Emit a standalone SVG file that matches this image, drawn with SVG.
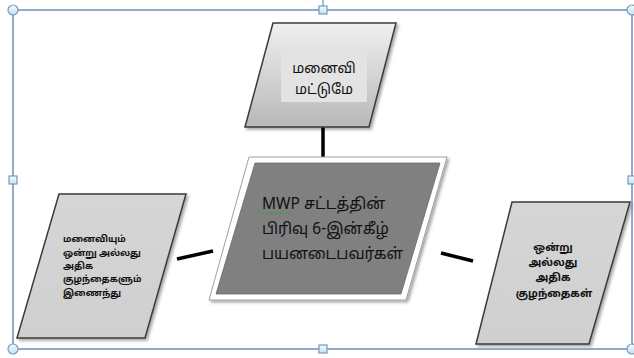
<svg xmlns="http://www.w3.org/2000/svg" width="634" height="358" viewBox="0 0 634 358">
<defs>
<linearGradient id="gTop" x1="0" y1="0" x2="0" y2="1">
<stop offset="0" stop-color="#f0f0f0"/><stop offset="1" stop-color="#b8b8b8"/>
</linearGradient>
<linearGradient id="gSide" x1="0" y1="0" x2="0" y2="1">
<stop offset="0" stop-color="#d6d6d6"/><stop offset="1" stop-color="#cfcfcf"/>
</linearGradient>
<linearGradient id="gHandle" x1="0" y1="0" x2="0" y2="1">
<stop offset="0" stop-color="#f4fbfd"/><stop offset="1" stop-color="#bfe4ef"/>
</linearGradient>
<filter id="sh" x="-20%" y="-20%" width="140%" height="140%">
<feDropShadow dx="2" dy="2" stdDeviation="1.5" flood-color="#000" flood-opacity="0.35"/>
</filter>
</defs>
<style>
.node{stroke:#3a3a3a;stroke-width:1.5;filter:url(#sh)}
.conn{stroke:#000;stroke-width:3.5;stroke-linecap:butt;fill:none}
.t{font-family:"Noto Sans Tamil","Noto Sans Tamil UI","Lohit Tamil","FreeSans","Latha","Noto Sans","DejaVu Sans",sans-serif;fill:#111}
.sel{stroke:#6f8fb5;stroke-width:1.5;fill:none}
.h{fill:url(#gHandle);stroke:#7b99bd;stroke-width:1.2}
</style>

<g id="connectors">
<line class="conn" x1="323" y1="127" x2="323" y2="158"/>
<line class="conn" x1="177" y1="259" x2="213" y2="251"/>
<line class="conn" x1="441" y1="253" x2="473" y2="261"/>
</g>

<g id="node-top">
<polygon class="node" points="273,23 396,23 369,127 245,127" fill="url(#gTop)"/>
<rect x="281" y="51" width="86" height="51" fill="#e3e3e3"/>
<text class="t" font-size="14" text-anchor="middle" x="324" y="73">மனைவி</text>
<text class="t" font-size="14" text-anchor="middle" x="324" y="94">மட்டுமே</text>
</g>

<g id="node-center">
<polygon points="249,157 447,157 406,300 209,300" fill="#ffffff" stroke="#a0a0a0" stroke-width="1" filter="url(#sh)"/>
<polygon points="255,163 440,163 401,294 216,294" fill="#808080" stroke="#6a6a6a" stroke-width="0.8"/>
<text class="t" font-size="15.5" x="262" y="209">MWP சட்டத்தின்</text>
<text class="t" font-size="15.5" x="262" y="234">பிரிவு 6-இன்கீழ்</text>
<text class="t" font-size="15.5" x="262" y="259">பயனடைபவர்கள்</text>
<path d="M262,212 l2,2 l2,-2 l2,2 l2,-2 l2,2 l2,-2 l2,2 l2,-2 l2,2 l2,-2 l2,2 l2,-2 l2,2 l2,-2" fill="none" stroke="#2ea02e" stroke-width="0.8"/>
</g>

<g id="node-left">
<polygon class="node" points="59,194 186,194 145,338 17,338" fill="url(#gSide)"/>
<text class="t" font-size="9" font-weight="bold" x="63" y="242">மனைவியும்</text>
<text class="t" font-size="9" font-weight="bold" x="63" y="256">ஒன்று அல்லது</text>
<text class="t" font-size="9" font-weight="bold" x="63" y="269">அதிக</text>
<text class="t" font-size="9" font-weight="bold" x="63" y="282">குழந்தைகளும்</text>
<text class="t" font-size="9" font-weight="bold" x="63" y="296">இணைந்து</text>
</g>

<g id="node-right">
<polygon class="node" points="512,202 630,202 589,344 476,344" fill="url(#gSide)"/>
<text class="t" font-size="10.5" font-weight="bold" text-anchor="middle" x="553" y="251">ஒன்று</text>
<text class="t" font-size="10.5" font-weight="bold" text-anchor="middle" x="553" y="266">அல்லது</text>
<text class="t" font-size="10.5" font-weight="bold" text-anchor="middle" x="553" y="281">அதிக</text>
<text class="t" font-size="10.5" font-weight="bold" text-anchor="middle" x="554" y="297">குழந்தைகள்</text>
</g>

<g id="selection-frame">
<line x1="323" y1="0" x2="323" y2="6" stroke="#6f8fb5" stroke-width="1.2"/>
<rect class="sel" x="13" y="10" width="619" height="339"/>
<circle class="h" cx="13" cy="10" r="5"/>
<circle class="h" cx="632" cy="10" r="5"/>
<circle class="h" cx="13" cy="349" r="5"/>
<circle class="h" cx="632" cy="349" r="5"/>
<rect class="h" x="319" y="6" width="8" height="8"/>
<rect class="h" x="319" y="345" width="8" height="8"/>
<rect class="h" x="9" y="176" width="8" height="8"/>
<rect class="h" x="628" y="176" width="8" height="8"/>
</g>
</svg>
